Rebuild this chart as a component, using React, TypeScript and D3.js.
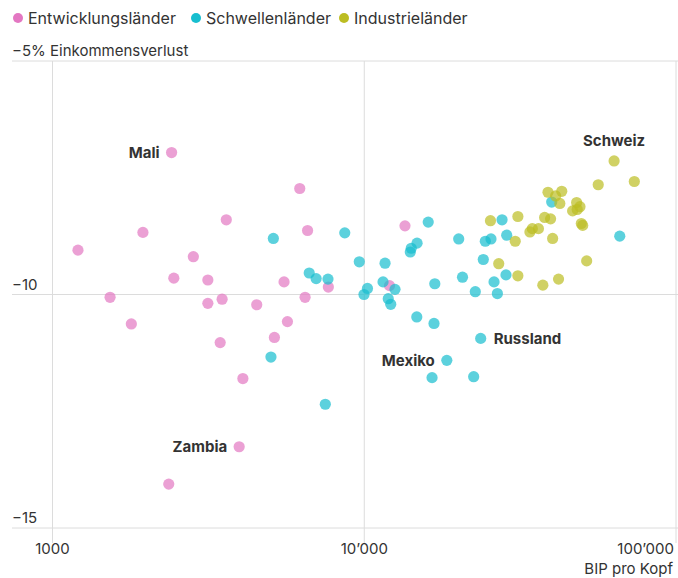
import React, { useEffect, useRef } from 'react'
import * as d3 from 'd3'

// [BIP pro Kopf, Einkommensverlust in %]
const entwicklungslaender: [number, number][] = [
  [1207, -9.05], [1530, -10.06], [1790, -10.63], [1950, -8.67], [2410, -6.96],
  [2450, -9.65], [2830, -9.19], [3150, -9.69], [3150, -10.19], [3450, -11.03],
  [3500, -10.1], [3610, -8.4], [3970, -13.26], [4080, -11.8], [2360, -14.06],
  [4520, -10.22], [5150, -10.92], [5530, -9.73], [5670, -10.58], [6210, -7.73],
  [6460, -10.06], [6580, -8.63], [7670, -9.84], [13510, -8.53], [12050, -9.81],
]

const schwellenlaender: [number, number][] = [
  [5110, -8.8], [8660, -8.68], [6660, -9.54], [7010, -9.66], [7650, -9.67],
  [5020, -11.34], [7500, -12.35], [16040, -8.45], [20090, -8.81], [14770, -8.9],
  [14150, -9.01], [14050, -9.09], [9640, -9.3], [11660, -9.33], [20660, -9.63],
  [11490, -9.73], [16840, -9.77], [12550, -9.89], [10240, -9.87], [9980, -10.0],
  [11940, -10.09], [12160, -10.21], [14740, -10.48], [16740, -10.62], [18400, -11.41],
  [39930, -8.02], [27670, -8.4], [25500, -8.81], [24450, -8.86], [28640, -8.73],
  [66000, -8.75], [24090, -9.25], [28490, -9.58], [26080, -9.73], [22710, -9.94],
  [26730, -9.98], [23630, -10.94], [16500, -11.78], [22440, -11.76],
]

const industrielaender: [number, number][] = [
  [63300, -7.14], [73500, -7.58], [56300, -7.65], [38850, -7.81], [43000, -7.79],
  [41100, -7.89], [42400, -8.05], [48000, -8.03], [49200, -8.12], [46600, -8.21],
  [48200, -8.18], [31100, -8.33], [25400, -8.42], [37900, -8.35], [39600, -8.38],
  [49700, -8.48], [50200, -8.52], [34600, -8.59], [36200, -8.59], [34000, -8.66],
  [40200, -8.8], [30500, -8.86], [27000, -9.34], [51700, -9.28], [31100, -9.6],
  [42000, -9.67], [37400, -9.8],
]

const groups = ['Entwicklungsländer', 'Schwellenländer', 'Industrieländer']
const groupColors = ['#e377c2', '#17becf', '#bcbd22']

// name, gdp, loss, position of label
const labels: [string, number, number, string][] = [
  ['Mali', 2410, -6.96, 'left'],
  ['Zambia', 3970, -13.26, 'left'],
  ['Mexiko', 18400, -11.41, 'left'],
  ['Russland', 23630, -10.94, 'right'],
  ['Schweiz', 63300, -7.14, 'top'],
]

const xTicks = [1000, 10000, 100000]
const yTicks = [-5, -10, -15]

const width = 678
const height = 578
const font = 'Inter, Roboto, sans-serif'

export default function App() {
  const svgRef = useRef<SVGSVGElement>(null)

  useEffect(() => {
    const svg = d3.select(svgRef.current)
    svg.selectAll('*').remove()

    const x = d3.scaleLog().domain([1000, 100000]).range([52.5, 676])
    const y = d3.scaleLinear().domain([-5, -15]).range([61, 528])

    // legend
    const legend = svg.append('g').attr('font-family', font).attr('font-size', 16)
    const legendX = [18, 196, 344]
    groups.forEach((g, i) => {
      legend.append('circle').attr('cx', legendX[i]).attr('cy', 18).attr('r', 5)
        .attr('fill', groupColors[i])
      legend.append('text').attr('x', legendX[i] + 10).attr('y', 23.5)
        .attr('fill', '#333').text(g)
    })

    // grid
    const grid = svg.append('g').attr('stroke', '#dcdcdc').attr('stroke-width', 1)
    grid.selectAll('.h').data(yTicks).enter().append('line')
      .attr('x1', 12).attr('x2', width)
      .attr('y1', d => y(d)).attr('y2', d => y(d))
    grid.selectAll('.v').data(xTicks).enter().append('line')
      .attr('x1', d => x(d)).attr('x2', d => x(d))
      .attr('y1', y(-5)).attr('y2', 543)

    // y labels
    svg.append('g').attr('font-family', font).attr('font-size', 15).attr('fill', '#333')
      .selectAll('text').data(yTicks).enter().append('text')
      .attr('x', 12).attr('y', d => y(d) - 5)
      .text(d => d === -5 ? '−5% Einkommensverlust' : '−' + Math.abs(d))

    // x labels
    svg.append('g').attr('font-family', font).attr('font-size', 15).attr('fill', '#333')
      .selectAll('text').data(xTicks).enter().append('text')
      .attr('x', (d, i) => i === xTicks.length - 1 ? x(d) - 2 : x(d))
      .attr('y', 554)
      .attr('text-anchor', (d, i) => i === xTicks.length - 1 ? 'end' : 'middle')
      .text(d => d === 1000 ? '1000' : d3.format(',')(d).replace(/,/g, '’'))

    svg.append('text').attr('x', width - 5).attr('y', 574)
      .attr('text-anchor', 'end').attr('font-family', font).attr('font-size', 15)
      .attr('fill', '#333').text('BIP pro Kopf')

    // points
    const all = [entwicklungslaender, schwellenlaender, industrielaender]
    all.forEach((data, i) => {
      svg.append('g').selectAll('circle').data(data).enter().append('circle')
        .attr('cx', d => x(d[0])).attr('cy', d => y(d[1])).attr('r', 5.6)
        .attr('fill', groupColors[i]).attr('fill-opacity', 0.7)
    })

    // country labels
    const lab = svg.append('g').attr('font-family', font).attr('font-size', 15)
      .attr('font-weight', 'bold').attr('fill', '#333')
    labels.forEach(([name, gdp, loss, pos]) => {
      const t = lab.append('text').text(name)
      if (pos === 'left') {
        t.attr('x', x(gdp) - 12).attr('y', y(loss) + 5.5).attr('text-anchor', 'end')
      } else if (pos === 'right') {
        t.attr('x', x(gdp) + 13).attr('y', y(loss) + 5.5)
      } else {
        t.attr('x', x(gdp)).attr('y', y(loss) - 15).attr('text-anchor', 'middle')
      }
    })
  }, [])

  return (
    <svg ref={svgRef} width={width} height={height}
      style={{ position: 'absolute', left: 0, top: 0, display: 'block', background: '#fff' }} />
  )
}
